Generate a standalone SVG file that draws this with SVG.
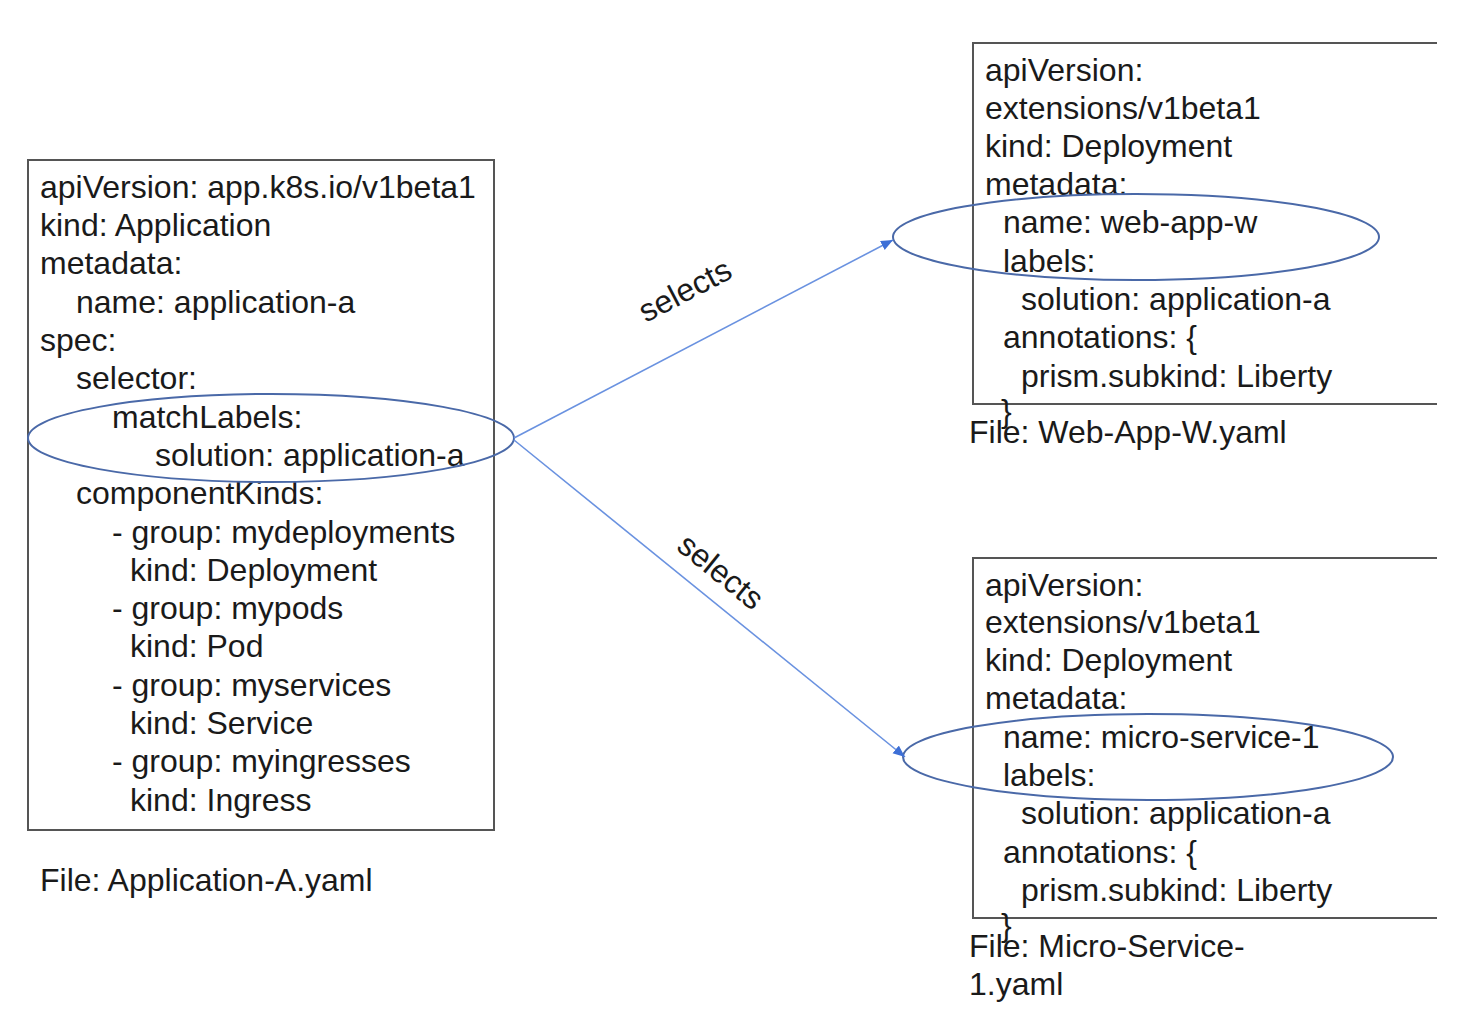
<svg xmlns="http://www.w3.org/2000/svg" width="1470" height="1018" viewBox="0 0 1470 1018">
<style>
text{font-family:"Liberation Sans",Arial,sans-serif;font-size:32px;fill:#1a1a1a}
.box{fill:none;stroke:#555;stroke-width:2}
.ring{fill:none;stroke:#4a69a8;stroke-width:2}
.conn{fill:none;stroke:#6a92e0;stroke-width:1.6}
</style>
<defs>
<marker id="ah" markerUnits="userSpaceOnUse" markerWidth="14" markerHeight="12" refX="12" refY="5" orient="auto">
<path d="M0,0 L12,5 L0,10 Z" fill="#3d6fd6"/>
</marker>
</defs>
<rect width="1470" height="1018" fill="#fff"/>
<g id="application-a">
<rect class="box" x="28" y="160" width="466" height="670"/>
<text>
<tspan x="40" y="198">apiVersion: app.k8s.io/v1beta1</tspan>
<tspan x="40" y="236">kind: Application</tspan>
<tspan x="40" y="274">metadata:</tspan>
<tspan x="76" y="313">name: application-a</tspan>
<tspan x="40" y="351">spec:</tspan>
<tspan x="76" y="389">selector:</tspan>
<tspan x="112" y="428">matchLabels:</tspan>
<tspan x="155" y="466">solution: application-a</tspan>
<tspan x="76" y="504">componentKinds:</tspan>
<tspan x="112" y="543">- group: mydeployments</tspan>
<tspan x="130" y="581">kind: Deployment</tspan>
<tspan x="112" y="619">- group: mypods</tspan>
<tspan x="130" y="657">kind: Pod</tspan>
<tspan x="112" y="696">- group: myservices</tspan>
<tspan x="130" y="734">kind: Service</tspan>
<tspan x="112" y="772">- group: myingresses</tspan>
<tspan x="130" y="811">kind: Ingress</tspan>
</text>
<ellipse class="ring" cx="271" cy="438" rx="243" ry="44"/>
<text x="40" y="891">File: Application-A.yaml</text>
</g>
<g id="web-app-w">
<path class="box" d="M1437,43 H973 V404 H1437"/>
<text>
<tspan x="985" y="81">apiVersion:</tspan>
<tspan x="985" y="119">extensions/v1beta1</tspan>
<tspan x="985" y="157">kind: Deployment</tspan>
<tspan x="985" y="195">metadata:</tspan>
<tspan x="1003" y="233">name: web-app-w</tspan>
<tspan x="1003" y="272">labels:</tspan>
<tspan x="1021" y="310">solution: application-a</tspan>
<tspan x="1003" y="348">annotations: {</tspan>
<tspan x="1021" y="387">prism.subkind: Liberty</tspan>
<tspan x="1001" y="422">}</tspan>
</text>
<ellipse class="ring" cx="1136" cy="237" rx="243" ry="43"/>
<text x="969" y="443">File: Web-App-W.yaml</text>
</g>
<g id="micro-service-1">
<path class="box" d="M1437,558 H973 V918 H1437"/>
<text>
<tspan x="985" y="596">apiVersion:</tspan>
<tspan x="985" y="633">extensions/v1beta1</tspan>
<tspan x="985" y="671">kind: Deployment</tspan>
<tspan x="985" y="709">metadata:</tspan>
<tspan x="1003" y="748">name: micro-service-1</tspan>
<tspan x="1003" y="786">labels:</tspan>
<tspan x="1021" y="824">solution: application-a</tspan>
<tspan x="1003" y="863">annotations: {</tspan>
<tspan x="1021" y="901">prism.subkind: Liberty</tspan>
<tspan x="1001" y="936">}</tspan>
</text>
<ellipse class="ring" cx="1148" cy="757" rx="245" ry="43"/>
<text>
<tspan x="969" y="957">File: Micro-Service-</tspan>
<tspan x="969" y="995">1.yaml</tspan>
</text>
</g>
<g id="connectors">
<line class="conn" x1="514" y1="438" x2="893" y2="240" marker-end="url(#ah)"/>
<line class="conn" x1="514" y1="440" x2="905" y2="757" marker-end="url(#ah)"/>
<text x="0" y="0" text-anchor="middle" transform="translate(690,300) rotate(-27.6)">selects</text>
<text x="0" y="0" text-anchor="middle" transform="translate(714,580) rotate(39)">selects</text>
</g>
</svg>
